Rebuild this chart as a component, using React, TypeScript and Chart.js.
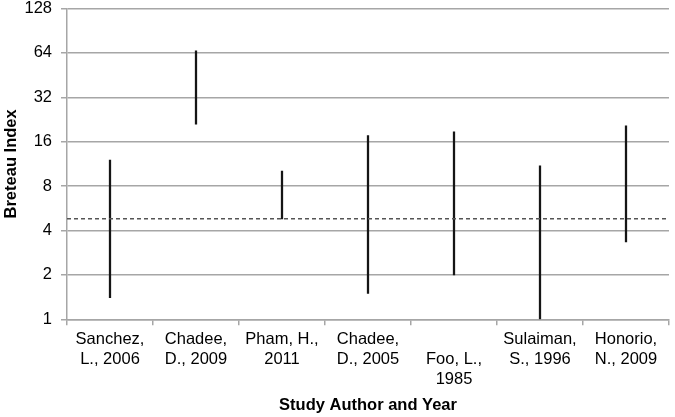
import React, { useEffect, useRef } from "react";
import { Chart, registerables } from "chart.js";

Chart.register(...registerables);

const categories: string[][] = [
  ["Sanchez,", "L., 2006"],
  ["Chadee,", "D., 2009"],
  ["Pham, H.,", "2011"],
  ["Chadee,", "D., 2005"],
  ["", "Foo, L.,", "1985"],
  ["Sulaiman,", "S., 1996"],
  ["Honorio,", "N., 2009"],
];
const lowValues: number[] = [1.4, 21, 4.8, 1.5, 2, 1, 3.35];
const highValues: number[] = [12, 66, 10.1, 17.6, 18.7, 11, 20.5];
const thresholdValue = 4.8;
const yTickValues: number[] = [1, 2, 4, 8, 16, 32, 64, 128];

const FONT = "'Liberation Sans', Arial, sans-serif";

const thresholdPlugin = {
  id: "thresholdLine",
  afterDatasetsDraw(chart: any) {
    const { ctx, chartArea, scales } = chart;
    const y = scales.y.getPixelForValue(thresholdValue);
    ctx.save();
    ctx.strokeStyle = "#555555";
    ctx.lineWidth = 1.5;
    ctx.setLineDash([4, 3]);
    ctx.beginPath();
    ctx.moveTo(chartArea.left, y);
    ctx.lineTo(chartArea.right - 2, y);
    ctx.stroke();
    ctx.restore();
  },
};

export default function App() {
  const canvasRef = useRef<HTMLCanvasElement | null>(null);

  useEffect(() => {
    if (!canvasRef.current) return;
    const chart = new Chart(canvasRef.current, {
      type: "bar",
      data: {
        labels: categories as any,
        datasets: [
          {
            data: lowValues.map((lo, i) => [lo, highValues[i]]) as any,
            backgroundColor: "#151515",
            borderWidth: 0,
            barThickness: 1.6,
          },
        ],
      },
      plugins: [thresholdPlugin],
      options: {
        animation: false,
        responsive: false,
        maintainAspectRatio: false,
        layout: { padding: { top: 0, right: 6, left: 0, bottom: 0 } },
        plugins: {
          legend: { display: false },
          tooltip: { enabled: false },
        },
        scales: {
          x: {
            type: "category",
            offset: true,
            grid: {
              display: true,
              offset: true,
              drawOnChartArea: false,
              drawTicks: true,
              tickLength: 6,
              color: "#a6a6a6",
              lineWidth: 1.5,
            },
            border: { display: true, color: "#a6a6a6", width: 1.5 },
            ticks: {
              color: "#000",
              font: { family: FONT, size: 16.5, lineHeight: 1.22 },
              padding: 4,
              maxRotation: 0,
              minRotation: 0,
              autoSkip: false,
            },
            title: {
              display: true,
              text: "Study Author and Year",
              color: "#000",
              font: { family: FONT, size: 16.5, weight: "bold" },
              padding: { top: 1.5, bottom: 2 },
            },
          },
          y: {
            type: "logarithmic",
            min: 1,
            max: 128,
            afterBuildTicks: (scale: any) => {
              scale.ticks = yTickValues.map((v) => ({ value: v }));
            },
            afterFit: (scale: any) => {
              scale.width = 67;
              scale.paddingTop = 8.5;
              scale.paddingBottom = 0;
            },
            grid: {
              color: "#a6a6a6",
              lineWidth: 1.5,
              drawTicks: true,
              tickLength: 6,
            },
            border: { display: true, color: "#a6a6a6", width: 1.5 },
            ticks: {
              color: "#000",
              font: { family: FONT, size: 16.5 },
              padding: 9,
              callback: (v: any) => String(v),
            },
            title: {
              display: true,
              text: "Breteau Index",
              color: "#000",
              font: { family: FONT, size: 16.5, weight: "bold" },
              padding: { top: 2, bottom: 2 },
            },
          },
        },
      } as any,
    });
    return () => chart.destroy();
  }, []);

  return (
    <div style={{ position: "absolute", left: 0, top: 0, width: 675, height: 417, background: "#fff" }}>
      <canvas ref={canvasRef} width={675} height={417} style={{ width: 675, height: 417 }} />
    </div>
  );
}
